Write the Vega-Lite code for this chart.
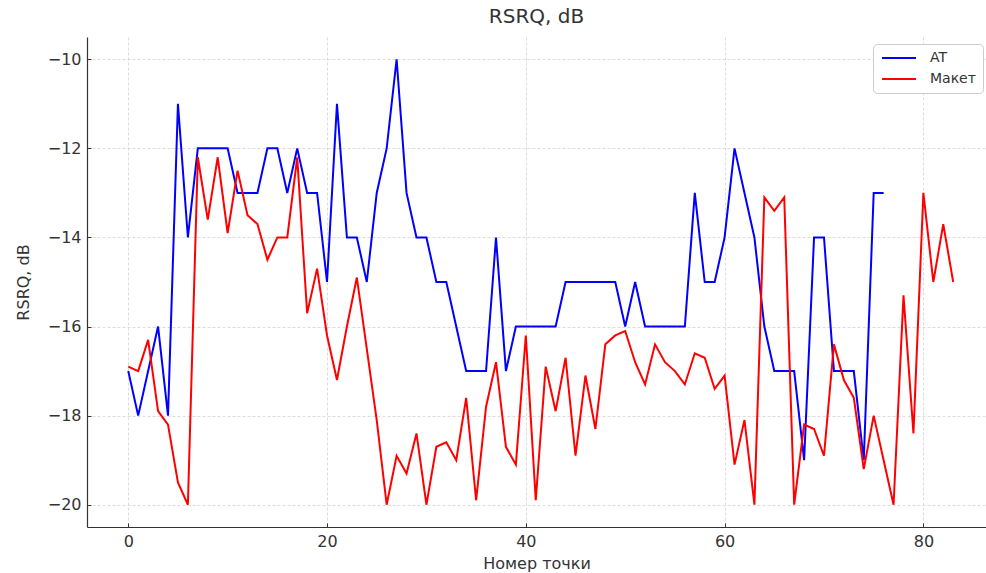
{
  "$schema": "https://vega.github.io/schema/vega-lite/v6.json",
  "autosize": {"type": "none"},
  "width": 899,
  "height": 490,
  "padding": {"left": 87, "top": 37, "right": 0, "bottom": 46},
  "background": "white",
  "config": {
    "font": "DejaVu Sans",
    "view": {"stroke": null},
    "axis": {
      "domainColor": "#333",
      "domainWidth": 1.2,
      "tickColor": "#333",
      "tickSize": -4,
      "labelColor": "#333",
      "labelFontSize": 16,
      "labelFont": "DejaVu Sans",
      "titleFont": "DejaVu Sans",
      "titleFontSize": 16,
      "titleFontWeight": "normal",
      "titleColor": "#333",
      "gridColor": "#d3d3d3",
      "gridDash": [3, 2],
      "gridWidth": 0.8
    }
  },
  "title": {
    "text": "RSRQ, dB",
    "fontSize": 20,
    "fontWeight": "normal",
    "color": "#333",
    "font": "DejaVu Sans",
    "offset": 10
  },
  "data": {
    "values": [
      {"x": 0, "v": -17, "s": "AT"}, {"x": 1, "v": -18, "s": "AT"}, {"x": 2, "v": -17, "s": "AT"}, {"x": 3, "v": -16, "s": "AT"},
      {"x": 4, "v": -18, "s": "AT"}, {"x": 5, "v": -11, "s": "AT"}, {"x": 6, "v": -14, "s": "AT"}, {"x": 7, "v": -12, "s": "AT"},
      {"x": 8, "v": -12, "s": "AT"}, {"x": 9, "v": -12, "s": "AT"}, {"x": 10, "v": -12, "s": "AT"}, {"x": 11, "v": -13, "s": "AT"},
      {"x": 12, "v": -13, "s": "AT"}, {"x": 13, "v": -13, "s": "AT"}, {"x": 14, "v": -12, "s": "AT"}, {"x": 15, "v": -12, "s": "AT"},
      {"x": 16, "v": -13, "s": "AT"}, {"x": 17, "v": -12, "s": "AT"}, {"x": 18, "v": -13, "s": "AT"}, {"x": 19, "v": -13, "s": "AT"},
      {"x": 20, "v": -15, "s": "AT"}, {"x": 21, "v": -11, "s": "AT"}, {"x": 22, "v": -14, "s": "AT"}, {"x": 23, "v": -14, "s": "AT"},
      {"x": 24, "v": -15, "s": "AT"}, {"x": 25, "v": -13, "s": "AT"}, {"x": 26, "v": -12, "s": "AT"}, {"x": 27, "v": -10, "s": "AT"},
      {"x": 28, "v": -13, "s": "AT"}, {"x": 29, "v": -14, "s": "AT"}, {"x": 30, "v": -14, "s": "AT"}, {"x": 31, "v": -15, "s": "AT"},
      {"x": 32, "v": -15, "s": "AT"}, {"x": 33, "v": -16, "s": "AT"}, {"x": 34, "v": -17, "s": "AT"}, {"x": 35, "v": -17, "s": "AT"},
      {"x": 36, "v": -17, "s": "AT"}, {"x": 37, "v": -14, "s": "AT"}, {"x": 38, "v": -17, "s": "AT"}, {"x": 39, "v": -16, "s": "AT"},
      {"x": 40, "v": -16, "s": "AT"}, {"x": 41, "v": -16, "s": "AT"}, {"x": 42, "v": -16, "s": "AT"}, {"x": 43, "v": -16, "s": "AT"},
      {"x": 44, "v": -15, "s": "AT"}, {"x": 45, "v": -15, "s": "AT"}, {"x": 46, "v": -15, "s": "AT"}, {"x": 47, "v": -15, "s": "AT"},
      {"x": 48, "v": -15, "s": "AT"}, {"x": 49, "v": -15, "s": "AT"}, {"x": 50, "v": -16, "s": "AT"}, {"x": 51, "v": -15, "s": "AT"},
      {"x": 52, "v": -16, "s": "AT"}, {"x": 53, "v": -16, "s": "AT"}, {"x": 54, "v": -16, "s": "AT"}, {"x": 55, "v": -16, "s": "AT"},
      {"x": 56, "v": -16, "s": "AT"}, {"x": 57, "v": -13, "s": "AT"}, {"x": 58, "v": -15, "s": "AT"}, {"x": 59, "v": -15, "s": "AT"},
      {"x": 60, "v": -14, "s": "AT"}, {"x": 61, "v": -12, "s": "AT"}, {"x": 62, "v": -13, "s": "AT"}, {"x": 63, "v": -14, "s": "AT"},
      {"x": 64, "v": -16, "s": "AT"}, {"x": 65, "v": -17, "s": "AT"}, {"x": 66, "v": -17, "s": "AT"}, {"x": 67, "v": -17, "s": "AT"},
      {"x": 68, "v": -19, "s": "AT"}, {"x": 69, "v": -14, "s": "AT"}, {"x": 70, "v": -14, "s": "AT"}, {"x": 71, "v": -17, "s": "AT"},
      {"x": 72, "v": -17, "s": "AT"}, {"x": 73, "v": -17, "s": "AT"}, {"x": 74, "v": -19, "s": "AT"}, {"x": 75, "v": -13, "s": "AT"},
      {"x": 76, "v": -13, "s": "AT"},
      {"x": 0, "v": -16.9, "s": "Макет"}, {"x": 1, "v": -17.0, "s": "Макет"}, {"x": 2, "v": -16.3, "s": "Макет"}, {"x": 3, "v": -17.9, "s": "Макет"},
      {"x": 4, "v": -18.2, "s": "Макет"}, {"x": 5, "v": -19.5, "s": "Макет"}, {"x": 6, "v": -20.0, "s": "Макет"}, {"x": 7, "v": -12.2, "s": "Макет"},
      {"x": 8, "v": -13.6, "s": "Макет"}, {"x": 9, "v": -12.2, "s": "Макет"}, {"x": 10, "v": -13.9, "s": "Макет"}, {"x": 11, "v": -12.5, "s": "Макет"},
      {"x": 12, "v": -13.5, "s": "Макет"}, {"x": 13, "v": -13.7, "s": "Макет"}, {"x": 14, "v": -14.5, "s": "Макет"}, {"x": 15, "v": -14.0, "s": "Макет"},
      {"x": 16, "v": -14.0, "s": "Макет"}, {"x": 17, "v": -12.2, "s": "Макет"}, {"x": 18, "v": -15.7, "s": "Макет"}, {"x": 19, "v": -14.7, "s": "Макет"},
      {"x": 20, "v": -16.2, "s": "Макет"}, {"x": 21, "v": -17.2, "s": "Макет"}, {"x": 22, "v": -16.0, "s": "Макет"}, {"x": 23, "v": -14.9, "s": "Макет"},
      {"x": 24, "v": -16.5, "s": "Макет"}, {"x": 25, "v": -18.1, "s": "Макет"}, {"x": 26, "v": -20.0, "s": "Макет"}, {"x": 27, "v": -18.9, "s": "Макет"},
      {"x": 28, "v": -19.3, "s": "Макет"}, {"x": 29, "v": -18.4, "s": "Макет"}, {"x": 30, "v": -20.0, "s": "Макет"}, {"x": 31, "v": -18.7, "s": "Макет"},
      {"x": 32, "v": -18.6, "s": "Макет"}, {"x": 33, "v": -19.0, "s": "Макет"}, {"x": 34, "v": -17.6, "s": "Макет"}, {"x": 35, "v": -19.9, "s": "Макет"},
      {"x": 36, "v": -17.8, "s": "Макет"}, {"x": 37, "v": -16.8, "s": "Макет"}, {"x": 38, "v": -18.7, "s": "Макет"}, {"x": 39, "v": -19.1, "s": "Макет"},
      {"x": 40, "v": -16.2, "s": "Макет"}, {"x": 41, "v": -19.9, "s": "Макет"}, {"x": 42, "v": -16.9, "s": "Макет"}, {"x": 43, "v": -17.9, "s": "Макет"},
      {"x": 44, "v": -16.7, "s": "Макет"}, {"x": 45, "v": -18.9, "s": "Макет"}, {"x": 46, "v": -17.1, "s": "Макет"}, {"x": 47, "v": -18.3, "s": "Макет"},
      {"x": 48, "v": -16.4, "s": "Макет"}, {"x": 49, "v": -16.2, "s": "Макет"}, {"x": 50, "v": -16.1, "s": "Макет"}, {"x": 51, "v": -16.8, "s": "Макет"},
      {"x": 52, "v": -17.3, "s": "Макет"}, {"x": 53, "v": -16.4, "s": "Макет"}, {"x": 54, "v": -16.8, "s": "Макет"}, {"x": 55, "v": -17.0, "s": "Макет"},
      {"x": 56, "v": -17.3, "s": "Макет"}, {"x": 57, "v": -16.6, "s": "Макет"}, {"x": 58, "v": -16.7, "s": "Макет"}, {"x": 59, "v": -17.4, "s": "Макет"},
      {"x": 60, "v": -17.1, "s": "Макет"}, {"x": 61, "v": -19.1, "s": "Макет"}, {"x": 62, "v": -18.1, "s": "Макет"}, {"x": 63, "v": -20.0, "s": "Макет"},
      {"x": 64, "v": -13.1, "s": "Макет"}, {"x": 65, "v": -13.4, "s": "Макет"}, {"x": 66, "v": -13.1, "s": "Макет"}, {"x": 67, "v": -20.0, "s": "Макет"},
      {"x": 68, "v": -18.2, "s": "Макет"}, {"x": 69, "v": -18.3, "s": "Макет"}, {"x": 70, "v": -18.9, "s": "Макет"}, {"x": 71, "v": -16.4, "s": "Макет"},
      {"x": 72, "v": -17.2, "s": "Макет"}, {"x": 73, "v": -17.6, "s": "Макет"}, {"x": 74, "v": -19.2, "s": "Макет"}, {"x": 75, "v": -18.0, "s": "Макет"},
      {"x": 76, "v": -19.0, "s": "Макет"}, {"x": 77, "v": -20.0, "s": "Макет"}, {"x": 78, "v": -15.3, "s": "Макет"}, {"x": 79, "v": -18.4, "s": "Макет"},
      {"x": 80, "v": -13.0, "s": "Макет"}, {"x": 81, "v": -15.0, "s": "Макет"}, {"x": 82, "v": -13.7, "s": "Макет"}, {"x": 83, "v": -15.0, "s": "Макет"}
    ]
  },
  "mark": {"type": "line", "strokeWidth": 2, "clip": true},
  "encoding": {
    "x": {
      "field": "x",
      "type": "quantitative",
      "scale": {"domain": [-4.15, 86.3], "nice": false, "zero": false},
      "axis": {"values": [0, 20, 40, 60, 80], "title": "Номер точки", "labelPadding": 10, "titlePadding": 6}
    },
    "y": {
      "field": "v",
      "type": "quantitative",
      "scale": {"domain": [-20.5, -9.5], "nice": false, "zero": false},
      "axis": {"values": [-20, -18, -16, -14, -12, -10], "title": "RSRQ, dB", "labelPadding": 10, "titlePadding": 16}
    },
    "color": {
      "field": "s",
      "type": "nominal",
      "sort": ["AT", "Макет"],
      "scale": {"domain": ["AT", "Макет"], "range": ["#0000ff", "#ff0000"]},
      "legend": {
        "title": null,
        "orient": "none",
        "legendX": 786,
        "legendY": 7,
        "symbolType": "M-1,0H5.8",
        "symbolSize": 100,
        "symbolStrokeWidth": 2,
        "labelFontSize": 14,
        "labelOffset": 36,
        "labelColor": "#333",
        "labelFont": "DejaVu Sans",
        "strokeColor": "#cccccc",
        "fillColor": "white",
        "cornerRadius": 4,
        "padding": 7,
        "rowPadding": 7
      }
    }
  }
}
